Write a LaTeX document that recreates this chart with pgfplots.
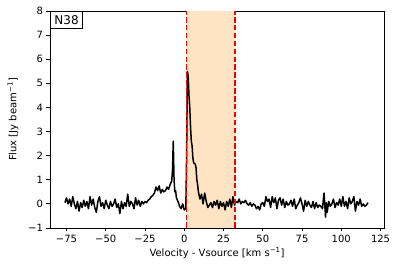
\documentclass[border=0pt]{standalone}
\usepackage{pgfplots}
\pgfplotsset{compat=1.18}
\usepackage{fontspec}
\setmainfont{DejaVu Sans}
\definecolor{bisque}{HTML}{FFE4C4}
\definecolor{mplred}{HTML}{FF0000}
\pgfplotstableread{
x y
-76 0.05
-75 0.25
-74 0.0
-73 0.2
-72 -0.1
-71 0.3
-70 0.0
-69 -0.2
-68 0.1
-67 -0.3
-66 0.05
-65 -0.15
-64 0.15
-63 -0.1
-62 0.1
-61 -0.2
-60 0.3
-59 -0.05
-58 0.2
-57 -0.15
-56 -0.35
-55 0.1
-54 0.3
-53 -0.1
-52 0.05
-51 -0.2
-50 0.15
-49 -0.05
-48 -0.2
-47 0.1
-46 -0.1
-45 0.0
-44 0.2
-43 -0.15
-42 0.0
-41 -0.4
-40 0.1
-39 -0.2
-38 0.05
-37 -0.1
-36 0.4
-35 -0.1
-34 0.1
-33 0.0
-32 -0.2
-31 0.25
-30 -0.05
-29 0.15
-28 -0.1
-27 0.1
-26 0.0
-25 0.1
-24 0.05
-23 0.15
-22 0.2
-21 0.3
-20 0.35
-19 0.45
-18 0.7
-17 0.55
-16 0.75
-15 0.45
-14 0.6
-13 0.5
-12 0.55
-11 0.7
-10 0.6
-9 0.8
-8 0.95
-7.5 1.4
-7 2.6
-6.5 1.0
-6 0.5
-5.5 0.55
-5 0.25
-4 0.1
-3 -0.1
-2 -0.2
-1 0.0
0 -0.25
1 -0.2
1.5 2.0
2 5.5
2.5 5.3
3 4.5
3.5 4.0
4 3.2
4.5 2.6
5 2.4
5.5 1.9
6 1.7
7 1.65
7.5 1.5
8 1.0
8.5 0.8
9 0.5
10 0.2
11 0.4
12 0.0
13 0.45
14 0.1
15 -0.15
16 -0.05
17 0.05
18 -0.15
19 0.1
20 -0.05
21 0.15
22 -0.2
23 0.1
24 -0.1
25 0.05
26 -0.25
27 0.1
28 -0.1
29 0.2
30 -0.15
31 0.3
32 -0.05
33 0.1
34 0.05
35 0.2
36 0.0
37 0.1
38 0.05
39 0.15
40 0.0
41 -0.05
42 0.05
43 -0.1
44 0.0
45 -0.05
46 -0.2
47 -0.1
48 -0.25
49 0.0
50 0.05
51 -0.1
52 0.3
53 0.1
54 0.2
55 -0.15
56 0.3
57 0.05
58 0.25
59 -0.2
60 0.15
61 0.25
62 -0.05
63 0.2
64 -0.15
65 0.1
66 -0.05
67 0.0
68 0.15
69 -0.1
70 0.2
71 -0.2
72 -0.05
73 0.05
74 0.25
75 0.0
76 -0.3
77 0.15
78 -0.1
79 0.1
80 -0.05
81 -0.15
82 0.1
83 -0.2
84 0.05
85 -0.15
86 -0.05
87 -0.1
88 -0.2
89 0.45
90 -0.55
90.5 0.05
91 -0.35
92 0.1
93 -0.1
94 0.0
95 0.2
96 -0.15
97 0.05
98 -0.05
99 0.2
100 -0.1
101 0.3
102 -0.1
103 0.1
104 -0.2
105 0.25
106 0.0
107 0.1
108 0.3
109 -0.3
110 0.1
111 -0.05
112 0.2
113 -0.1
114 0.0
115 -0.1
116 -0.05
117 0.05
}\spectrum
\begin{document}
\begin{tikzpicture}
\begin{axis}[
  scale only axis,
  width=334pt, height=217pt,
  xmin=-85.5, xmax=127.2,
  ymin=-1, ymax=8,
  xtick={-75,-50,-25,0,25,50,75,100,125},
  xticklabels={−75,−50,−25,0,25,50,75,100,125},
  ytick={-1,0,1,2,3,4,5,6,7,8},
  yticklabels={−1,0,1,2,3,4,5,6,7,8},
  xtick pos=bottom, ytick pos=left,
  tick align=outside,
  major tick length=3.5pt,
  tick style={black, line width=0.8pt},
  axis line style={line width=0.8pt},
  ticklabel style={font=\fontsize{10}{12}\selectfont},
  xlabel={Velocity - Vsource [km s\textsuperscript{−1}]},
  ylabel={Flux [Jy beam\textsuperscript{−1}]},
  every axis x label/.style={at={(axis description cs:0.5,-0.1152)}, anchor=center, font=\fontsize{10}{12}\selectfont},
  every axis y label/.style={at={(axis description cs:-0.1108,0.5)}, anchor=center, rotate=90, font=\fontsize{10}{12}\selectfont},
]
\addplot[fill=bisque, draw=none] coordinates {(1.5,-1) (1.5,8) (32.3,8) (32.3,-1)} -- cycle;
\addplot[black, line width=1.5pt, line join=round] table[x=x,y=y] {\spectrum};
\addplot[mplred, line width=1.5pt, dash pattern=on 5.5pt off 2.4pt] coordinates {(1.5,-1) (1.5,8)};
\addplot[mplred, line width=1.5pt, dash pattern=on 5.5pt off 2.4pt] coordinates {(32.3,-1) (32.3,8)};
\node[draw=black, fill=white, line width=0.8pt, anchor=north west, inner sep=4pt, font=\fontsize{12}{14}\selectfont] at (rel axis cs:0,1) {N38};
\end{axis}
\pgfresetboundingbox
\path[use as bounding box] ([xshift=-50pt,yshift=-44pt]current axis.south west) rectangle ([xshift=12pt,yshift=11pt]current axis.north east);
\end{tikzpicture}
\end{document}
